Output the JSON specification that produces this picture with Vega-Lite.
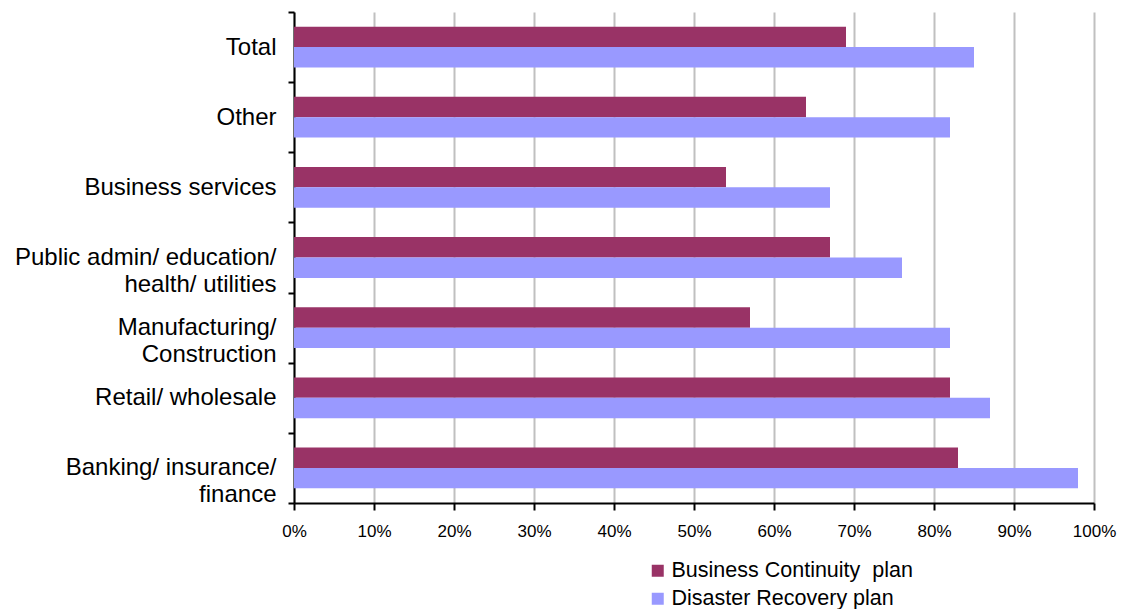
{
  "$schema": "https://vega.github.io/schema/vega-lite/v6.json",
  "width": 800,
  "height": 491,
  "autosize": {"type": "none"},
  "padding": {"left": 294, "top": 12, "right": 30, "bottom": 106},
  "background": "white",
  "config": {
    "font": "Liberation Sans",
    "view": {"stroke": null}
  },
  "data": {
    "values": [
      {"sector": "Total", "series": "Business Continuity\u00a0 plan", "value": 0.69},
      {"sector": "Total", "series": "Disaster Recovery plan", "value": 0.85},
      {"sector": "Other", "series": "Business Continuity\u00a0 plan", "value": 0.64},
      {"sector": "Other", "series": "Disaster Recovery plan", "value": 0.82},
      {"sector": "Business services", "series": "Business Continuity\u00a0 plan", "value": 0.54},
      {"sector": "Business services", "series": "Disaster Recovery plan", "value": 0.67},
      {"sector": "Public admin/ education/|health/ utilities", "series": "Business Continuity\u00a0 plan", "value": 0.67},
      {"sector": "Public admin/ education/|health/ utilities", "series": "Disaster Recovery plan", "value": 0.76},
      {"sector": "Manufacturing/|Construction", "series": "Business Continuity\u00a0 plan", "value": 0.57},
      {"sector": "Manufacturing/|Construction", "series": "Disaster Recovery plan", "value": 0.82},
      {"sector": "Retail/ wholesale", "series": "Business Continuity\u00a0 plan", "value": 0.82},
      {"sector": "Retail/ wholesale", "series": "Disaster Recovery plan", "value": 0.87},
      {"sector": "Banking/ insurance/|finance", "series": "Business Continuity\u00a0 plan", "value": 0.83},
      {"sector": "Banking/ insurance/|finance", "series": "Disaster Recovery plan", "value": 0.98}
    ]
  },
  "mark": {"type": "bar"},
  "encoding": {
    "y": {
      "field": "sector",
      "type": "nominal",
      "sort": null,
      "title": null,
      "scale": {"paddingInner": 0, "paddingOuter": 0},
      "axis": {
        "labelExpr": "split(datum.label, '|')",
        "labelFontSize": 24,
        "labelColor": "black",
        "labelLineHeight": 27,
        "labelPadding": 12,
        "labelLimit": 400,
        "tickBand": "extent",
        "tickSize": 6,
        "tickColor": "black",
        "tickWidth": 2,
        "domainColor": "black",
        "domainWidth": 2,
        "grid": false,
        "encode": {
          "labels": {
            "update": {
              "align": {"signal": "indexof(datum.value, '|') >= 0 ? 'center' : 'right'"},
              "dx": {"signal": "datum.value == 'Banking/ insurance/|finance' ? -105 : datum.value == 'Public admin/ education/|health/ utilities' ? -131 : datum.value == 'Manufacturing/|Construction' ? -79 : 0"}
            }
          }
        }
      }
    },
    "yOffset": {
      "field": "series",
      "type": "nominal",
      "sort": ["Business Continuity\u00a0 plan", "Disaster Recovery plan"],
      "scale": {"paddingInner": 0, "paddingOuter": 0.72}
    },
    "x": {
      "field": "value",
      "type": "quantitative",
      "title": null,
      "scale": {"domain": [0, 1], "nice": false},
      "axis": {
        "format": "%",
        "values": [0, 0.1, 0.2, 0.3, 0.4, 0.5, 0.6, 0.7, 0.8, 0.9, 1],
        "labelFontSize": 17,
        "labelColor": "black",
        "labelPadding": 13,
        "labelFlush": false,
        "labelOverlap": false,
        "tickSize": 7,
        "tickColor": "black",
        "tickWidth": 2,
        "domainColor": "black",
        "domainWidth": 2,
        "grid": true,
        "gridColor": "#c0c0c0",
        "gridWidth": 2
      }
    },
    "color": {
      "field": "series",
      "type": "nominal",
      "sort": ["Business Continuity\u00a0 plan", "Disaster Recovery plan"],
      "scale": {"range": ["#993366", "#9999FF"]},
      "legend": {
        "title": null,
        "orient": "none",
        "legendX": 353,
        "legendY": 548,
        "padding": 0,
        "symbolType": "square",
        "symbolSize": 144,
        "symbolStrokeWidth": 0,
        "symbolOpacity": 1,
        "labelFontSize": 21.5,
        "labelColor": "black",
        "labelOffset": 3,
        "rowPadding": 5,
        "labelLimit": 400
      }
    }
  }
}
